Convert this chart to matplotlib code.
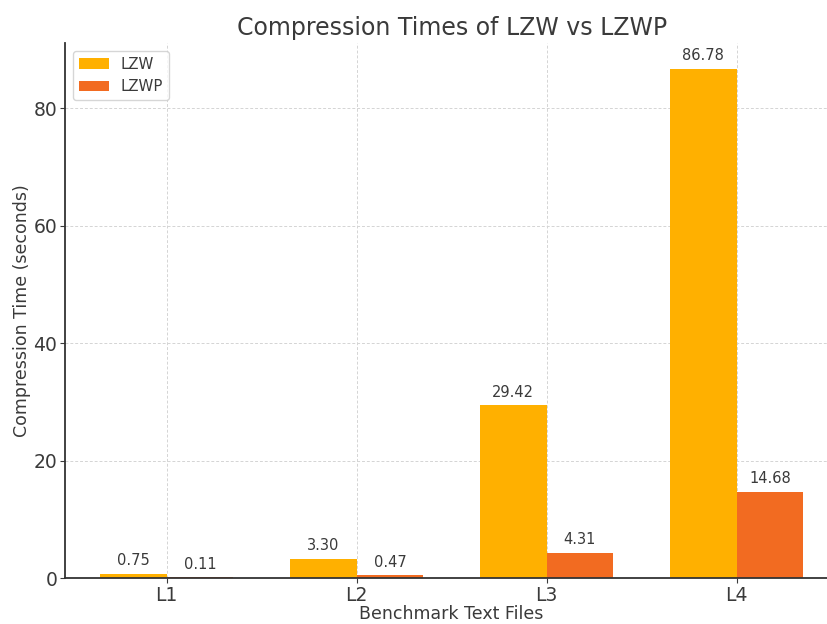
import numpy as np
import matplotlib
matplotlib.use("Agg")
import matplotlib.pyplot as plt

# Compression timings for each benchmark file (seconds)
files = ["L1", "L2", "L3", "L4"]
lzw_times = [0.75, 3.30, 29.42, 86.78]
lzwp_times = [0.11, 0.47, 4.31, 14.68]

text_color = "#3a3a3a"
plt.rcParams["text.color"] = text_color
plt.rcParams["axes.labelcolor"] = text_color
plt.rcParams["xtick.color"] = text_color
plt.rcParams["ytick.color"] = text_color

fig = plt.figure(figsize=(8.27, 6.24), dpi=100)
ax = fig.add_axes([0.0786, 0.0737, 0.935, 0.857])

x = np.arange(len(files))
width = 0.35
bars1 = ax.bar(x - width / 2, lzw_times, width, label="LZW", color="#FFB000")
bars2 = ax.bar(x + width / 2, lzwp_times, width, label="LZWP", color="#F26B21")

for bars in (bars1, bars2):
    for b in bars:
        h = b.get_height()
        ax.annotate(f"{h:.2f}", xy=(b.get_x() + b.get_width() / 2, h),
                    xytext=(0, 4), textcoords="offset points",
                    ha="center", va="bottom", fontsize=10.5, color=text_color)

ax.set_title("Compression Times of LZW vs LZWP", fontsize=17, color=text_color)
ax.set_xlabel("Benchmark Text Files", fontsize=12.5, labelpad=0)
ax.set_ylabel("Compression Time (seconds)", fontsize=12.5, labelpad=2)
ax.set_xticks(x)
ax.set_xticklabels(files)
ax.tick_params(axis="both", labelsize=13.5, pad=2)
ax.set_yticks([0, 20, 40, 60, 80])

ax.grid(True, linestyle=(0, (3, 2)), color="#d4d4d4", linewidth=0.7)
ax.set_axisbelow(True)
for side in ("top", "right"):
    ax.spines[side].set_visible(False)
for side in ("left", "bottom"):
    ax.spines[side].set_color("#333333")
    ax.spines[side].set_linewidth(1.3)

ax.legend(loc="upper left", fontsize=10.8)

fig.savefig("out.png", dpi=100)
